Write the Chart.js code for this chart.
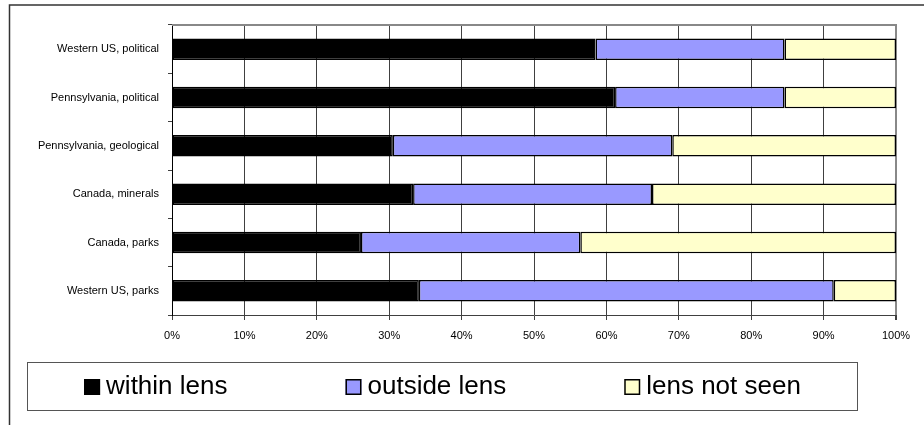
<!DOCTYPE html>
<html>
<head>
<meta charset="utf-8">
<title>Lens visibility by map type</title>
<script src="https://cdn.jsdelivr.net/npm/chart.js@4/dist/chart.umd.min.js"></script>
<style>
  html, body { margin: 0; padding: 0; background: #ffffff; }
  #wrap { width: 924px; height: 425px; position: relative; }
</style>
</head>
<body>
<div id="wrap"><canvas id="chart" width="924" height="425"></canvas></div>
<script>
// Share of responses per map (percent of each row)
const categories = [
  'Western US, political',
  'Pennsylvania, political',
  'Pennsylvania, geological',
  'Canada, minerals',
  'Canada, parks',
  'Western US, parks'
];
const withinLens  = [58.5, 61.2, 30.5, 33.3, 26.1, 34.1];
const outsideLens = [26.1, 23.4, 38.6, 33.0, 30.3, 57.3];
const lensNotSeen = [15.4, 15.4, 30.9, 33.7, 43.6,  8.6];
const xTickLabels = ['0%', '10%', '20%', '30%', '40%', '50%', '60%', '70%', '80%', '90%', '100%'];
const seriesNames = ['within lens', 'outside lens', 'lens not seen'];
const seriesColors = ['#000000', '#9999ff', '#ffffcc'];

const FONT = '"Liberation Sans", Arial, sans-serif';

// Outer frame, plot border and the boxed legend underneath
const decorations = {
  id: 'decorations',
  beforeDraw(chart) {
    const c = chart.ctx;
    c.save();
    c.fillStyle = '#ffffff';
    c.fillRect(0, 0, chart.width, chart.height);
    c.strokeStyle = '#333333';
    c.lineWidth = 1.5;
    c.beginPath();
    c.moveTo(9.5, chart.height + 2);
    c.lineTo(9.5, 5);
    c.lineTo(chart.width + 2, 5);
    c.stroke();
    c.restore();
  },
  beforeDatasetsDraw(chart) {
    const a = chart.chartArea;
    const c = chart.ctx;
    c.save();
    c.strokeStyle = '#888888';
    c.lineWidth = 2;
    c.beginPath();
    c.moveTo(a.left, a.top);
    c.lineTo(a.right + 1, a.top);
    c.stroke();
    c.restore();
  },
  afterDraw(chart) {
    const c = chart.ctx;
    c.save();
    // legend frame
    const bx = 27.5, by = 362.5, bw = 830, bh = 48;
    c.strokeStyle = '#555555';
    c.lineWidth = 1;
    c.strokeRect(bx, by, bw, bh);

    c.font = '26px ' + FONT;
    c.textBaseline = 'alphabetic';
    c.textAlign = 'left';
    const sw = 16, gapText = 6, gapItem = 118;
    const items = chart.data.datasets.map(ds => ({
      label: ds.label,
      color: ds.backgroundColor,
      w: sw + gapText + c.measureText(ds.label).width
    }));
    const total = items.reduce((s, it) => s + it.w, 0) + gapItem * (items.length - 1);
    let x = bx + bw / 2 - total / 2;
    const sy = 379;
    items.forEach(it => {
      c.fillStyle = it.color;
      c.fillRect(x, sy, sw, sw);
      c.strokeStyle = '#000000';
      c.lineWidth = 1.5;
      c.strokeRect(x + 0.75, sy + 0.75, sw - 1.5, sw - 1.5);
      c.fillStyle = '#000000';
      c.fillText(it.label, x + sw + gapText, 394);
      x += it.w + gapItem;
    });
    c.restore();
  }
};

const seriesData = [withinLens, outsideLens, lensNotSeen];

new Chart(document.getElementById('chart'), {
  type: 'bar',
  data: {
    labels: categories,
    datasets: seriesNames.map((name, i) => ({
      label: name,
      data: seriesData[i],
      backgroundColor: seriesColors[i],
      borderColor: '#000000',
      borderWidth: 1.5,
      borderSkipped: false,
      barPercentage: 0.445,
      categoryPercentage: 1.0
    }))
  },
  options: {
    indexAxis: 'y',
    responsive: false,
    animation: false,
    devicePixelRatio: 1,
    layout: { padding: { left: 0, right: 28, top: 25, bottom: 80 } },
    plugins: {
      legend: { display: false },
      tooltip: { enabled: false }
    },
    scales: {
      x: {
        stacked: true,
        min: 0,
        max: 100,
        afterFit(scale) { scale.height = 30; },
        afterBuildTicks(scale) {
          scale.ticks = xTickLabels.map((_, i) => ({ value: i * 10 }));
        },
        ticks: {
          autoSkip: false,
          maxRotation: 0,
          padding: 9,
          color: '#000000',
          font: { family: FONT, size: 11 },
          callback: (v, i) => xTickLabels[i]
        },
        grid: {
          color: ctx => (ctx.tick && ctx.tick.value === 100) ? '#888888' : '#404040',
          lineWidth: ctx => (ctx.tick && ctx.tick.value === 100) ? 2 : 1,
          tickLength: 5,
          tickColor: '#404040'
        },
        border: { color: '#404040', width: 1 }
      },
      y: {
        stacked: true,
        afterFit(scale) { scale.width = 172; },
        ticks: {
          padding: 9,
          color: '#000000',
          font: { family: FONT, size: 11 }
        },
        grid: {
          drawOnChartArea: false,
          tickLength: 4,
          color: '#404040'
        },
        border: { color: '#000000', width: 1 }
      }
    }
  },
  plugins: [decorations]
});
</script>
</body>
</html>
